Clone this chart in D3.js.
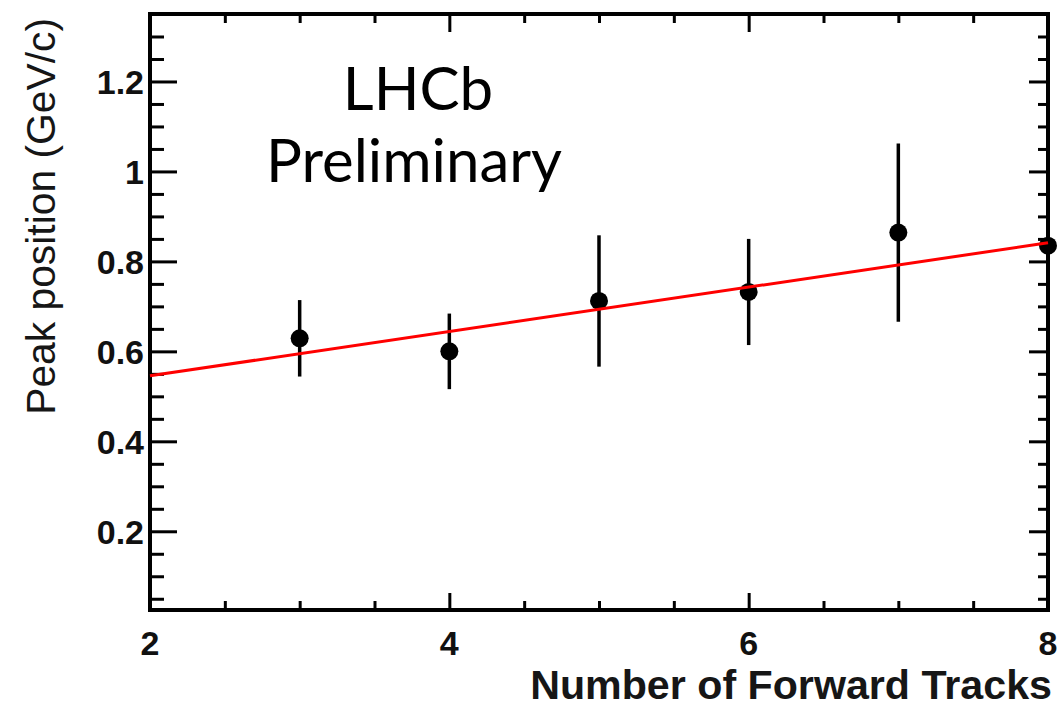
<!DOCTYPE html>
<html>
<head>
<meta charset="utf-8">
<script src="https://cdn.jsdelivr.net/npm/d3@7"></script>
<style>
  html, body { margin: 0; padding: 0; background: #fff; }
  svg { display: block; }
</style>
</head>
<body>
<div id="chart"></div>
<script>
// values
const nTracks = [3, 4, 5, 6, 7, 8];
const peakPos = [0.629, 0.600, 0.712, 0.732, 0.864, 0.835];
const peakErr = [0.085, 0.084, 0.146, 0.118, 0.198, 0.132];
// straight-line fit  p0 + p1 * x
const fitParams = [0.447, 0.0493];

const xMajor = [2, 4, 6, 8];
const xMinor = [2.5, 3, 3.5, 4.5, 5, 5.5, 6.5, 7, 7.5];
const yMajor = [0.2, 0.4, 0.6, 0.8, 1, 1.2];
const yMinor = [0.05, 0.1, 0.15, 0.25, 0.3, 0.35, 0.45, 0.5, 0.55, 0.65, 0.7, 0.75,
                0.85, 0.9, 0.95, 1.05, 1.1, 1.15, 1.25, 1.3];

const W = 1064, H = 709;
const padL = 150, padR = 1048, padT = 14, padB = 610;

const svg = d3.select("#chart").append("svg")
  .attr("width", W)
  .attr("height", H);

const x = d3.scaleLinear().domain([2, 8]).range([padL, padR]);
const y = d3.scaleLinear().domain([0.025, 1.35]).range([padB, padT]);

const tickFont = "'Liberation Sans', Arial, sans-serif";

// small helper to draw one set of ticks with the d3 axis
function ticks(axisFn, vals, len, transform) {
  const g = svg.append("g")
    .attr("transform", transform)
    .call(axisFn.tickValues(vals).tickSize(len).tickFormat(() => ""));
  g.select(".domain").remove();
  g.selectAll("line").attr("stroke", "#000").attr("stroke-width", 3);
  return g;
}

// left axis (ticks point inward)
ticks(d3.axisRight(y), yMajor, 27, `translate(${padL},0)`);
ticks(d3.axisRight(y), yMinor, 14, `translate(${padL},0)`);
// right axis
ticks(d3.axisLeft(y), yMajor, 19, `translate(${padR},0)`);
ticks(d3.axisLeft(y), yMinor, 10, `translate(${padR},0)`);
// bottom axis
ticks(d3.axisTop(x), xMajor, 17, `translate(0,${padB})`);
ticks(d3.axisTop(x), xMinor, 9, `translate(0,${padB})`);
// top axis
ticks(d3.axisBottom(x), xMajor, 18, `translate(0,${padT})`);
ticks(d3.axisBottom(x), xMinor, 9, `translate(0,${padT})`);

// tick labels
svg.append("g").selectAll("text")
  .data(yMajor)
  .join("text")
  .attr("x", padL - 6)
  .attr("y", d => y(d))
  .attr("dy", "0.36em")
  .attr("text-anchor", "end")
  .attr("fill", "#111")
  .style("font-family", tickFont)
  .style("font-weight", "bold")
  .style("font-size", "34px")
  .text(d => d3.format("")(d));

svg.append("g").selectAll("text")
  .data(xMajor)
  .join("text")
  .attr("x", d => x(d))
  .attr("y", padB + 45)
  .attr("text-anchor", "middle")
  .attr("fill", "#111")
  .style("font-family", tickFont)
  .style("font-weight", "bold")
  .style("font-size", "34px")
  .text(d => d);

// frame
svg.append("rect")
  .attr("x", padL)
  .attr("y", padT)
  .attr("width", padR - padL)
  .attr("height", padB - padT)
  .attr("fill", "none")
  .attr("stroke", "#000")
  .attr("stroke-width", 4);

// axis titles, sized to the span they cover in the original
function fitText(sel, targetLen) {
  const len = sel.node().getComputedTextLength();
  const fs = parseFloat(sel.style("font-size"));
  sel.style("font-size", (fs * targetLen / len) + "px");
}

const xTitle = svg.append("text")
  .attr("x", padR + 4)
  .attr("y", 699)
  .attr("text-anchor", "end")
  .attr("fill", "#161616")
  .style("font-family", tickFont)
  .style("font-weight", "bold")
  .style("font-size", "34px")
  .text("Number of Forward Tracks");
fitText(xTitle, 522);

const yTitle = svg.append("text")
  .attr("transform", `translate(55,18) rotate(-90)`)
  .attr("text-anchor", "end")
  .attr("fill", "#161616")
  .style("font-family", tickFont)
  .style("font-size", "32px")
  .text("Peak position (GeV/c)");
fitText(yTitle, 397);

// LHCb label
const lab = svg.append("g")
  .style("font-family", "Lato, 'Open Sans', sans-serif")
  .style("font-size", "60px")
  .attr("fill", "#000")
  .attr("text-anchor", "middle");
lab.append("text").attr("x", 418).attr("y", 110).text("LHCb");
lab.append("text").attr("x", 414).attr("y", 182).text("Preliminary");

// data points with error bars
const pts = nTracks.map((n, i) => ({ n, v: peakPos[i], e: peakErr[i] }));

svg.append("g").selectAll("line")
  .data(pts)
  .join("line")
  .attr("x1", d => x(d.n))
  .attr("x2", d => x(d.n))
  .attr("y1", d => y(d.v - d.e))
  .attr("y2", d => y(d.v + d.e))
  .attr("stroke", "#000")
  .attr("stroke-width", 3.5);

svg.append("g").selectAll("circle")
  .data(pts)
  .join("circle")
  .attr("cx", d => x(d.n))
  .attr("cy", d => y(d.v))
  .attr("r", 9)
  .attr("fill", "#000");

// fit line
const fitX = x.domain();
svg.append("line")
  .attr("x1", x(fitX[0]))
  .attr("x2", x(fitX[1]))
  .attr("y1", y(fitParams[0] + fitParams[1] * fitX[0]))
  .attr("y2", y(fitParams[0] + fitParams[1] * fitX[1]))
  .attr("stroke", "#ff0000")
  .attr("stroke-width", 3);
</script>
</body>
</html>
